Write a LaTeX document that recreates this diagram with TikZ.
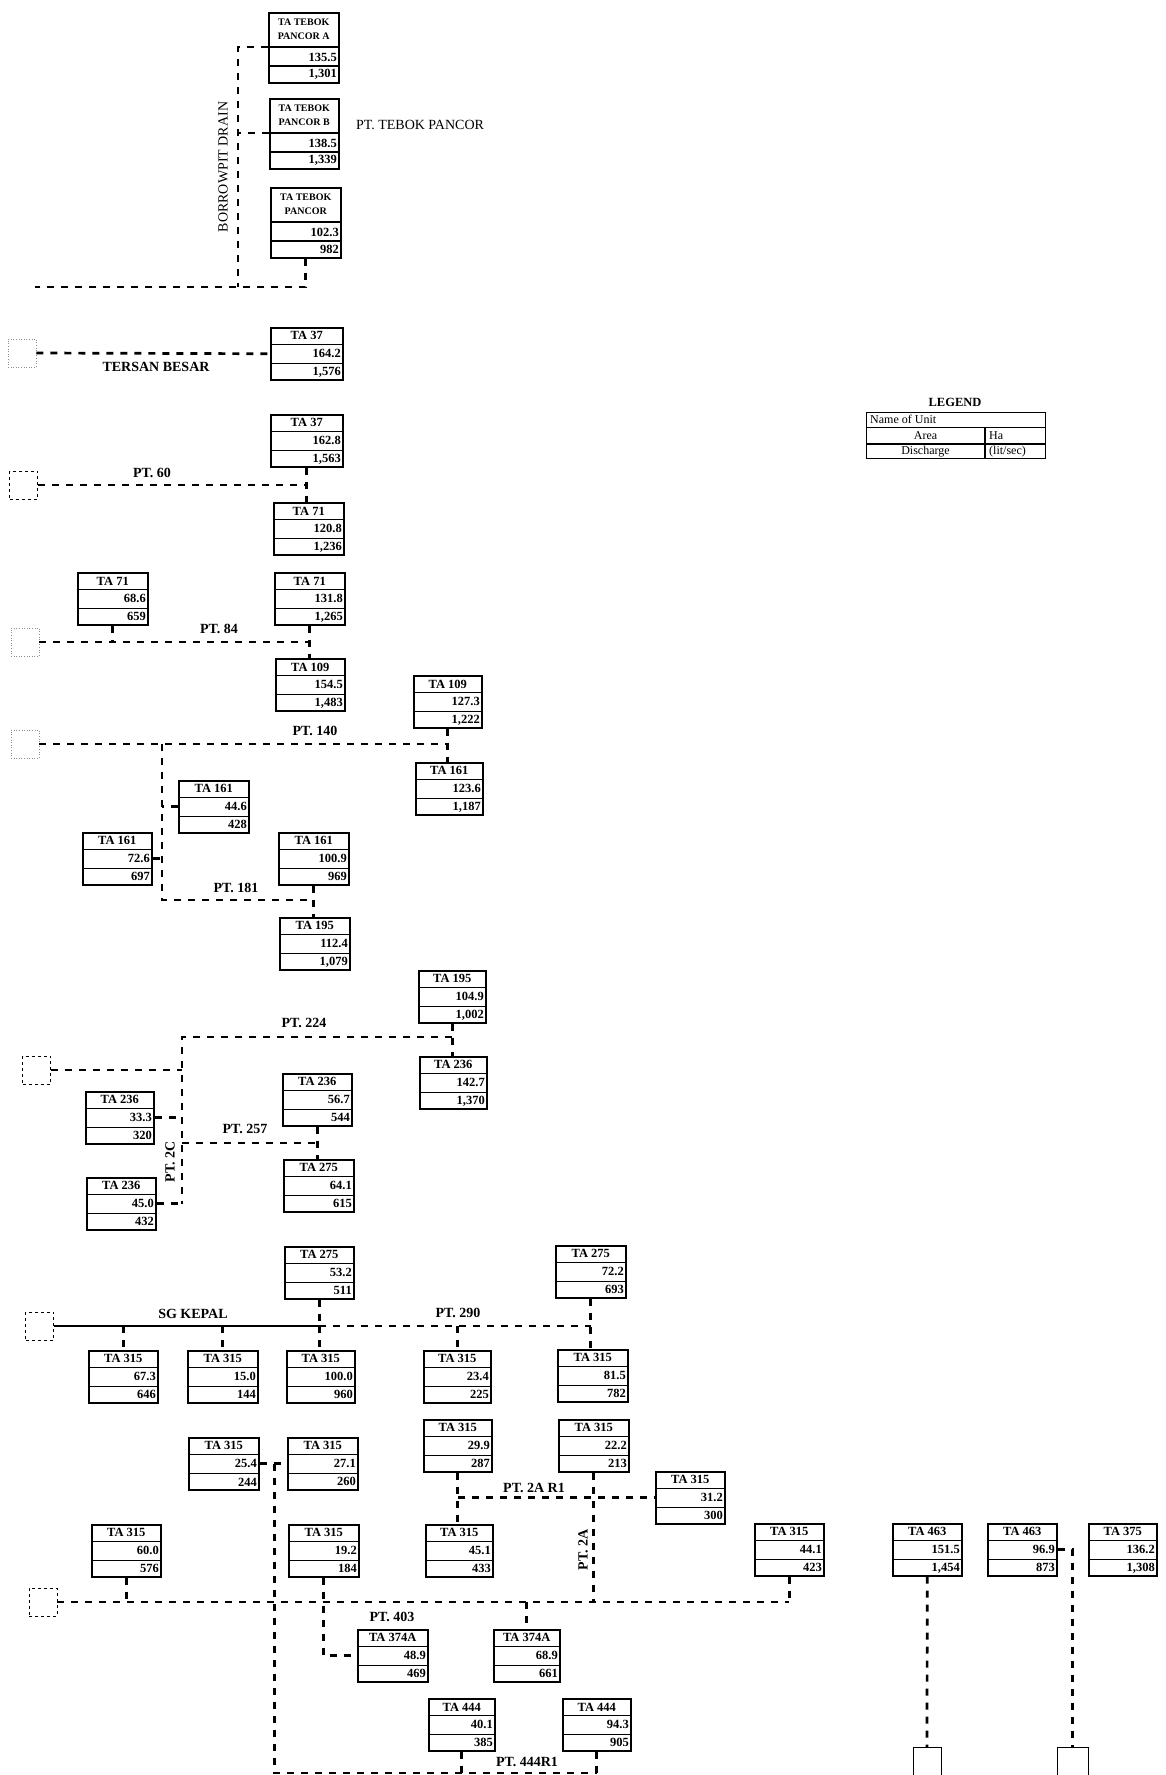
\documentclass[tikz,border=0pt]{standalone}
\usepackage{fontspec}
\setmainfont{Liberation Serif}
\usetikzlibrary{calc}
\tikzset{
 ubox/.style={draw, line width=1.5pt, minimum height=52pt, inner sep=0pt, anchor=north west},
 rowline/.style={line width=1.1pt},
 ttl/.style={font=\bfseries\fontsize{12.5}{13}\selectfont, inner sep=0pt},
 val/.style={font=\bfseries\fontsize{12.5}{13}\selectfont, inner sep=0pt, anchor=east},
 drain/.style={line width=2.7pt, dash pattern=on 7pt off 7pt},
 river/.style={line width=2.2pt},
 outlet/.style={draw, line width=0.7pt, dashed, minimum width=28pt, minimum height=28pt, inner sep=0pt},
 faint/.style={draw=black!45, line width=0.6pt, dotted, minimum width=28pt, minimum height=28pt, inner sep=0pt},
 outletb/.style={draw, line width=0.9pt, minimum width=28pt, minimum height=36pt, inner sep=0pt, anchor=north},
 lbl/.style={font=\bfseries\fontsize{14}{15}\selectfont, inner sep=0pt},
 legtxt/.style={font=\fontsize{12}{13}\selectfont, inner sep=0pt},
}
\newcommand\ubox[7]{%
 \node[ubox, minimum width=#4pt] (#1) at (#2,#3) {};
 \draw[rowline] ([yshift=-17.3pt]#1.north west) -- ([yshift=-17.3pt]#1.north east);
 \draw[rowline] ([yshift=17.3pt]#1.south west) -- ([yshift=17.3pt]#1.south east);
 \node[ttl] (#1-t) at ([yshift=-8.9pt]#1.north) {#5};
 \node[val] (#1-a) at ([xshift=-2.5pt]#1.east) {#6};
 \node[val] (#1-d) at ([xshift=-2.5pt,yshift=8.65pt]#1.south east) {#7};
}
\newcommand\tbox[7]{%
 \node[ubox, minimum width=#4pt, minimum height=70pt] (#1) at (#2,#3) {};
 \coordinate (#1-s) at ([yshift=-35pt]#1.north west);
 \draw[rowline] (#1-s) -- ([yshift=-35pt]#1.north east);
 \draw[rowline] ([yshift=17.5pt]#1.south west) -- ([yshift=17.5pt]#1.south east);
 \node[ttl, font=\bfseries\fontsize{10}{14}\selectfont, align=center] (#1-t) at ([yshift=-17.5pt]#1.north) {#5};
 \node[val] (#1-a) at ([xshift=-2.5pt,yshift=26.25pt]#1.south east) {#6};
 \node[val] (#1-d) at ([xshift=-2.5pt,yshift=8.75pt]#1.south east) {#7};
}
\begin{document}
\begin{tikzpicture}[x=1pt,y=-1pt]
\fill[white] (0,0) rectangle (1165,1775);
\useasboundingbox (0,0) rectangle (1165,1775);
\clip (0,0) rectangle (1165,1775);

% ---------- Tebok Pancor ----------
\tbox{tA}{268}{12}{70}{TA TEBOK\\PANCOR A}{135.5}{1,301}
\tbox{tB}{269}{98}{69}{TA TEBOK\\PANCOR B}{138.5}{1,339}
\tbox{tC}{270}{187}{70}{TA TEBOK\\PANCOR}{102.3}{982}
\coordinate (bdTop) at (238,47);
\coordinate (bdEnd) at (35,287);
\draw[drain] (tA-s) -- (bdTop) -- (bdTop |- bdEnd);
\draw[drain] (tB-s) -- (tB-s -| bdTop);
\draw[drain] (tC.south) |- (bdEnd);
\node[lbl, font=\fontsize{14}{15}\selectfont] (l1) at (420,125) {PT. TEBOK PANCOR};
\node[lbl, font=\fontsize{14}{15}\selectfont, rotate=90] (l2) at (223,167) {BORROWPIT DRAIN};

% ---------- Tersan Besar ----------
\ubox{a37}{270}{327}{72}{TA 37}{164.2}{1,576}
\node[faint] (o1) at (22,353) {};
\draw[drain] (o1.east) -- (a37.west);
\node[lbl] (l3) at (156,367) {TERSAN BESAR};

% ---------- PT 60 ----------
\ubox{b37}{270}{414}{72}{TA 37}{162.8}{1,563}
\ubox{c71}{273}{502}{70}{TA 71}{120.8}{1,236}
\node[outlet] (o2) at (23.5,485) {};
\draw[drain] (b37.south) -- (b37.south |- c71.north);
\draw[drain] (o2.east) -- (o2.east -| b37.south);
\node[lbl] (l4) at (152,473) {PT. 60};

% ---------- PT 84 ----------
\ubox{d71}{77}{572}{70}{TA 71}{68.6}{659}
\ubox{e71}{274}{572}{70}{TA 71}{131.8}{1,265}
\ubox{f109}{275}{658}{69}{TA 109}{154.5}{1,483}
\node[faint] (o3) at (25,642) {};
\draw[drain] (e71.south) -- (e71.south |- f109.north);
\draw[drain] (o3.east) -- (o3.east -| e71.south);
\draw[drain] (d71.south) -- (d71.south |- o3.east);
\node[lbl] (l5) at (219,629) {PT. 84};

% ---------- PT 140 / PT 181 ----------
\ubox{g109}{413}{675}{68}{TA 109}{127.3}{1,222}
\ubox{h161}{415}{762}{67}{TA 161}{123.6}{1,187}
\ubox{i161}{178}{780}{70}{TA 161}{44.6}{428}
\ubox{j161}{82}{832}{69}{TA 161}{72.6}{697}
\ubox{k161}{278}{832}{70}{TA 161}{100.9}{969}
\ubox{l195}{279}{917}{70}{TA 195}{112.4}{1,079}
\node[faint] (o4) at (25,744) {};
\coordinate (b140) at (162,744);
\coordinate (b181) at (162,900);
\draw[drain] (g109.south) -- (g109.south |- h161.north);
\draw[drain] (o4.east) -- (o4.east -| g109.south);
\draw[drain] (b140) -- (b181) -- (b181 -| k161.south);
\draw[drain] (k161.south) -- (k161.south |- l195.north);
\draw[drain] (i161.west) -- (i161.west -| b140);
\draw[drain] (j161.east) -- (j161.east -| b140);
\node[lbl] (l6) at (315,731) {PT. 140};
\node[lbl] (l7) at (236,888) {PT. 181};

% ---------- PT 224 / PT 257 / PT 2C ----------
\ubox{m195}{418}{970}{67}{TA 195}{104.9}{1,002}
\ubox{n236}{419}{1056}{67}{TA 236}{142.7}{1,370}
\ubox{o236}{85}{1091}{68}{TA 236}{33.3}{320}
\ubox{p236}{282}{1073}{69}{TA 236}{56.7}{544}
\ubox{q275}{283}{1159}{70}{TA 275}{64.1}{615}
\ubox{r236}{86}{1177}{69}{TA 236}{45.0}{432}
\node[outlet] (o5) at (36.5,1070) {};
\coordinate (b224) at (182,1037);
\coordinate (b257) at (182,1143);
\draw[drain] (m195.south) -- (m195.south |- n236.north);
\draw[drain] (b224 -| m195.south) -- (b224) -- (b224 |- r236.east);
\draw[drain] (o5.east) -- (o5.east -| b224);
\draw[drain] (o236.east) -- (o236.east -| b224);
\draw[drain] (r236.east) -- (r236.east -| b224);
\draw[drain] (b257) -- (b257 -| p236.south);
\draw[drain] (p236.south) -- (p236.south |- q275.north);
\node[lbl] (l8) at (304,1023) {PT. 224};
\node[lbl] (l9) at (245,1129) {PT. 257};
\node[lbl, rotate=90] (l10) at (170,1162) {PT. 2C};

% ---------- SG KEPAL / PT 290 ----------
\ubox{s275}{284}{1246}{69}{TA 275}{53.2}{511}
\ubox{v275}{555}{1245}{70}{TA 275}{72.2}{693}
\ubox{u1}{88}{1350}{69}{TA 315}{67.3}{646}
\ubox{u2}{187}{1350}{70}{TA 315}{15.0}{144}
\ubox{u3}{286}{1350}{68}{TA 315}{100.0}{960}
\ubox{u4}{423}{1350}{67}{TA 315}{23.4}{225}
\ubox{u5}{557}{1349}{70}{TA 315}{81.5}{782}
\node[outlet] (o6) at (39.5,1326) {};
\coordinate (kep) at (s275.south |- o6.east);
\draw[river] (o6.east) -- (kep);
\draw[drain] (s275.south) -- (kep);
\draw[drain] (kep) -- (kep -| v275.south);
\draw[drain] (v275.south) -- (v275.south |- u5.north);
\draw[drain] (u1.north |- kep) -- (u1.north);
\draw[drain] (u2.north |- kep) -- (u2.north);
\draw[drain] (kep) -- (kep |- u3.north);
\draw[drain] (u4.north |- kep) -- (u4.north);
\node[lbl] (l11) at (193,1314) {SG KEPAL};
\node[lbl] (l12) at (458,1313) {PT. 290};

% ---------- lower network ----------
\ubox{w1}{188}{1437}{70}{TA 315}{25.4}{244}
\ubox{w2}{287}{1437}{70}{TA 315}{27.1}{260}
\ubox{w3}{423}{1419}{68}{TA 315}{29.9}{287}
\ubox{w4}{558}{1419}{70}{TA 315}{22.2}{213}
\ubox{w5}{655}{1471}{69}{TA 315}{31.2}{300}
\ubox{x1}{91}{1524}{69}{TA 315}{60.0}{576}
\ubox{x2}{288}{1524}{70}{TA 315}{19.2}{184}
\ubox{x3}{425}{1524}{67}{TA 315}{45.1}{433}
\ubox{x4}{754}{1523}{69}{TA 315}{44.1}{423}
\ubox{x5}{892}{1523}{69}{TA 463}{151.5}{1,454}
\ubox{x6}{987}{1523}{69}{TA 463}{96.9}{873}
\ubox{x7}{1088}{1523}{68}{TA 375}{136.2}{1,308}
\ubox{y1}{357}{1629}{70}{TA 374A}{48.9}{469}
\ubox{y2}{493}{1629}{66}{TA 374A}{68.9}{661}
\ubox{z1}{428}{1698}{66}{TA 444}{40.1}{385}
\ubox{z2}{562}{1698}{68}{TA 444}{94.3}{905}
\node[outlet] (o7) at (43,1602) {};
\draw[drain] (o7.east) -- (o7.east -| x4.south);
\draw[drain] (x1.south) -- (x1.south |- o7.east);
\draw[drain] (x4.south) -- (x4.south |- o7.east);
\draw[drain] (x2.south) |- (y1.west);
\draw[drain] (y2.north |- o7.east) -- (y2.north);
\draw[drain] (w4.south) -- (w4.south |- o7.east);
\draw[drain] (w3.south) -- (w3.south |- x3.north);
\coordinate (r1) at (w3.south |- w5.west);
\draw[drain] (r1) -- (w5.west);
\draw[drain] (w1.east) -- (w2.west);
\coordinate (dv) at ($(w1.east)!0.55!(w2.west)$);
\coordinate (dbot) at (dv |- 0,1773);
\draw[drain] (dv) -- (dbot) -- (dbot -| z2.south);
\draw[drain] (z1.south) -- (z1.south |- dbot);
\draw[drain] (z2.south) -- (z2.south |- dbot);
\node[lbl] (l13) at (534,1488) {PT. 2A R1};
\node[lbl, rotate=90] (l14) at (583,1550) {PT. 2A};
\node[lbl] (l15) at (392,1617) {PT. 403};
\node[lbl] (l16) at (527,1762) {PT. 444R1};

% ---------- right outlets ----------
\node[outletb] (o8) at (927,1747) {};
\node[outletb, minimum width=31pt] (o9) at (1072.5,1747) {};
\draw[drain] (x5.south) -- (o8.north);
\draw[drain] (x6.east) -| (o9.north);

% ---------- legend ----------
\node[font=\bfseries\fontsize{12.5}{13}\selectfont, inner sep=0pt] (legT) at (955,402) {LEGEND};
\node[draw, line width=1.3pt, anchor=north west, minimum width=179pt, minimum height=46pt, inner sep=0pt] (leg) at (866,412) {};
\draw[rowline] ([yshift=-15.3pt]leg.north west) -- ([yshift=-15.3pt]leg.north east);
\draw[rowline] ([yshift=15.3pt]leg.south west) -- ([yshift=15.3pt]leg.south east);
\draw[rowline] ([xshift=119pt,yshift=-15.3pt]leg.north west) -- ([xshift=119pt]leg.south west);
\node[legtxt, anchor=west] (lg1) at ([xshift=4pt,yshift=-7.6pt]leg.north west) {Name of Unit};
\node[legtxt] (lg2) at ([xshift=59.5pt]leg.west) {Area};
\node[legtxt, anchor=west] (lg3) at ([xshift=123pt]leg.west) {Ha};
\node[legtxt] (lg4) at ([xshift=59.5pt,yshift=7.6pt]leg.south west) {Discharge};
\node[legtxt, anchor=west] (lg5) at ([xshift=123pt,yshift=7.6pt]leg.south west) {(lit/sec)};
\end{tikzpicture}
\end{document}
